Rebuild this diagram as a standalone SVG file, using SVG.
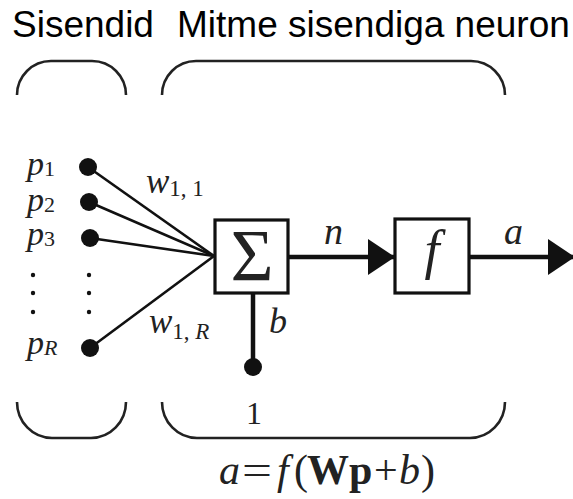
<svg xmlns="http://www.w3.org/2000/svg" width="573" height="499" viewBox="0 0 573 499">
<style>
.title{font-family:"Liberation Sans",Arial,sans-serif;font-size:37px;fill:#000}
.m{font-family:"Liberation Serif","Times New Roman",serif;fill:#222}
.i{font-style:italic}
.brace{fill:none;stroke:#222;stroke-width:2.6}
.box{fill:#fff;stroke:#111;stroke-width:3.2}
.in{stroke:#111;stroke-width:2.6;fill:none}
.wire{stroke:#111;stroke-width:4.5;fill:none}
.dot{fill:#111}
</style>
<defs>
<marker id="arr" markerUnits="userSpaceOnUse" markerWidth="30" markerHeight="36" refX="27" refY="18" orient="auto">
<path d="M0,0 L27,18 L0,36 Z" fill="#111"/>
</marker>
</defs>
<text class="title" x="12" y="37">Sisendid</text>
<text class="title" x="177" y="37">Mitme sisendiga neuron</text>
<g id="braces">
<path class="brace" d="M17,95 A34,34 0 0 1 51,61 L92,61 A34,34 0 0 1 126,95"/>
<path class="brace" d="M162,95 A34,34 0 0 1 196,61 L471,61 A34,34 0 0 1 505,95"/>
<path class="brace" d="M17,402 A35,36 0 0 0 52,438 L91,438 A35,36 0 0 0 126,402"/>
<path class="brace" d="M162,402 A35,36 0 0 0 197,438 L470,438 A35,36 0 0 0 505,402"/>
</g>
<g id="connectors">
<line class="in" x1="88" y1="167" x2="214" y2="256"/>
<line class="in" x1="89" y1="202" x2="214" y2="256"/>
<line class="in" x1="90" y1="238" x2="214" y2="256"/>
<line class="in" x1="90" y1="348" x2="214" y2="256"/>
<line class="wire" x1="253" y1="293" x2="253" y2="367"/>
<line class="wire" x1="288" y1="257" x2="395" y2="257" marker-end="url(#arr)"/>
<line class="wire" x1="469" y1="257" x2="575" y2="257" marker-end="url(#arr)"/>
</g>
<g id="inputs">
<circle class="dot" cx="88" cy="167" r="9"/>
<circle class="dot" cx="89" cy="202" r="9"/>
<circle class="dot" cx="90" cy="238" r="9"/>
<circle class="dot" cx="90" cy="348" r="9"/>
<circle class="dot" cx="33" cy="275" r="2.2"/>
<circle class="dot" cx="33" cy="293" r="2.2"/>
<circle class="dot" cx="33" cy="312" r="2.2"/>
<circle class="dot" cx="89" cy="275" r="2.2"/>
<circle class="dot" cx="89" cy="293" r="2.2"/>
<circle class="dot" cx="89" cy="312" r="2.2"/>
<text class="m i" x="27" y="175" font-size="34">p<tspan font-style="normal" font-size="22" dy="1">1</tspan></text>
<text class="m i" x="27" y="211" font-size="34">p<tspan font-style="normal" font-size="22" dy="1">2</tspan></text>
<text class="m i" x="27" y="245" font-size="34">p<tspan font-style="normal" font-size="22" dy="1">3</tspan></text>
<text class="m i" x="27" y="354" font-size="34">p<tspan font-size="22" dy="1">R</tspan></text>
<text class="m i" x="146" y="193" font-size="35">w<tspan font-style="normal" font-size="23" dy="3">1, 1</tspan></text>
<text class="m i" x="149" y="333" font-size="35">w<tspan font-style="normal" font-size="23" dy="6">1, </tspan><tspan font-size="23">R</tspan></text>
</g>
<g id="sum">
<rect class="box" x="215" y="220" width="73" height="73"/>
<text class="m" x="252" y="281" font-size="74" text-anchor="middle">Σ</text>
</g>
<g id="bias">
<circle class="dot" cx="253" cy="367" r="9"/>
<text class="m i" x="269" y="333" font-size="36">b</text>
<text class="m" x="246" y="424" font-size="32">1</text>
</g>
<g id="transfer">
<rect class="box" x="395" y="219" width="74" height="74"/>
<text class="m i" x="432" y="268" font-size="54" text-anchor="middle">f</text>
</g>
<text class="m i" x="324" y="244" font-size="38">n</text>
<text class="m i" x="504" y="244" font-size="38">a</text>
<g id="formula">
<text class="m" font-size="42" y="484"><tspan class="i" x="219">a</tspan><tspan x="242" textLength="30" lengthAdjust="spacingAndGlyphs">=</tspan><tspan class="i" x="277">f</tspan><tspan x="294">(</tspan><tspan x="307" font-weight="bold">W</tspan><tspan x="349" font-weight="bold">p</tspan><tspan x="374">+</tspan><tspan class="i" x="399">b</tspan><tspan x="421">)</tspan></text>
</g>
</svg>
